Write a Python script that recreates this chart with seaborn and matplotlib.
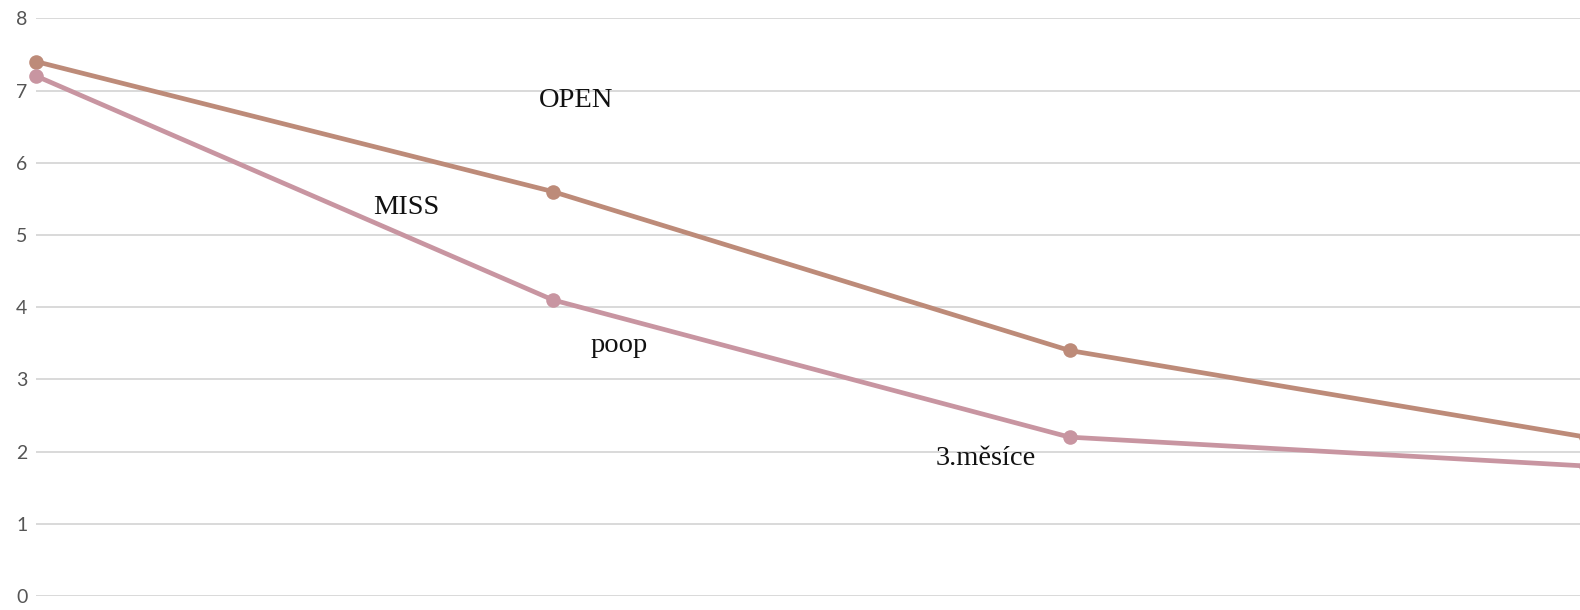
import matplotlib
matplotlib.use("Agg")
import matplotlib.pyplot as plt
import seaborn as sns
import pandas as pd

# Series values per step
steps = [0, 1, 2, 3]
open_vals = [7.4, 5.6, 3.4, 2.2]
miss_vals = [7.2, 4.1, 2.2, 1.8]
series_names = ["OPEN", "MISS"]
colors = ["#BD8B79", "#C895A1"]

# Free-floating text labels (text, x, y)
label_texts = ["OPEN", "MISS", "poop", "3.měsíce"]
label_x = [1.045, 0.717, 1.128, 1.837]
label_y = [6.86, 5.38, 3.47, 1.9]

y_ticks = [0, 1, 2, 3, 4, 5, 6, 7, 8]

df = pd.DataFrame({
    "step": steps * 2,
    "value": open_vals + miss_vals,
    "series": [series_names[0]] * len(steps) + [series_names[1]] * len(steps),
})

sns.set_style("white")
plt.rcParams["font.family"] = ["Lato", "DejaVu Sans"]

fig = plt.figure(figsize=(15.8, 6.1), dpi=100)
W, H = 1580, 610
x0_px, y0_px, y8_px = 36.3, 596, 18.3
ax = fig.add_axes([x0_px / W, (H - y0_px) / H, (W - x0_px) / W, (y0_px - y8_px) / H])

sns.lineplot(data=df, x="step", y="value", hue="series", palette=colors,
             marker="o", markersize=10.5, markeredgewidth=0, linewidth=3.4,
             ax=ax, legend=False, clip_on=False)

step_px = 516.6
ax.set_xlim(0, (W - x0_px) / step_px)
ax.set_ylim(0, 8)
ax.set_yticks(y_ticks)
ax.set_yticklabels([str(t) for t in y_ticks])
ax.set_xticks([])
ax.yaxis.grid(True, color="#d9d9d9", linewidth=1.4)
ax.set_axisbelow(True)
ax.tick_params(axis="y", length=0, pad=6.5, labelsize=14, labelcolor="#555555")
for s in ax.spines.values():
    s.set_visible(False)
ax.set_xlabel("")
ax.set_ylabel("")

for t, lx, ly in zip(label_texts, label_x, label_y):
    ax.text(lx, ly, t, ha="center", va="center", fontsize=20.5,
            family="Liberation Serif", color="#111111")

fig.savefig("out.png", dpi=100)
